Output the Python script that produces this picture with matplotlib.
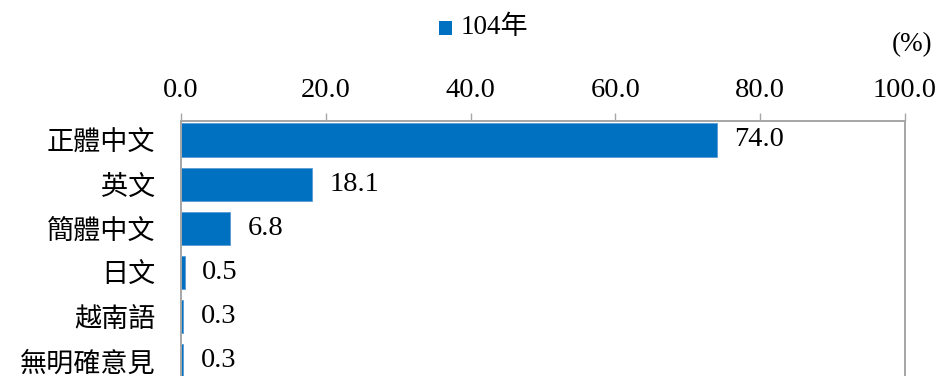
import matplotlib
matplotlib.use("Agg")
import matplotlib.pyplot as plt
from matplotlib.patches import Rectangle

categories = ["正體中文", "英文", "簡體中文", "日文", "越南語", "無明確意見"]
values = [74.0, 18.1, 6.8, 0.5, 0.3, 0.3]
xticks = [0, 20, 40, 60, 80, 100]
xtick_labels = ["0.0", "20.0", "40.0", "60.0", "80.0", "100.0"]
legend_label = "104年"
unit_label = "(%)"

BLUE = "#0070C0"
GRAY = "#A6A6A6"
SERIF = ["Liberation Serif", "Noto Sans CJK TC"]
CJK = ["Noto Sans CJK TC", "DejaVu Sans"]

fig = plt.figure(figsize=(9.4, 3.76), dpi=100)
W, H = 940, 376
left, right, top, bottom = 181, 905, 121, 383
ax = fig.add_axes([left / W, 1 - bottom / H, (right - left) / W, (bottom - top) / H])

y = list(range(len(categories)))
ax.barh(y, values, height=0.75, color=BLUE, edgecolor="#5B9BD5", linewidth=0.6)
ax.set_ylim(5.5, -0.43)
ax.set_xlim(0, 100)

ax.xaxis.tick_top()
ax.set_xticks(xticks)
ax.set_xticklabels(xtick_labels, fontfamily=SERIF, fontsize=20.5)
ax.tick_params(axis="x", direction="out", length=5.8, width=1, color=GRAY, pad=7.5)
ax.set_yticks(y)
ax.set_yticklabels(categories, fontfamily=CJK, fontsize=19.5)
ax.tick_params(axis="y", length=0, pad=18.5)

for s in ["left", "right", "top", "bottom"]:
    ax.spines[s].set_color(GRAY)
    ax.spines[s].set_linewidth(1.4)

for yi, v in zip(y, values):
    ax.text(v + 2.4, yi, f"{v:.1f}", va="center", ha="left",
            fontfamily=SERIF, fontsize=20.5, color="black")

# legend
fig.patches.append(Rectangle((439 / W, 1 - 35 / H), 13 / W, 14 / H,
                             transform=fig.transFigure, facecolor=BLUE,
                             edgecolor="none"))
fig.text(461 / W, 1 - 28 / H, legend_label, ha="left", va="center",
         fontfamily=SERIF, fontsize=19.5)
fig.text(932 / W, 1 - 45 / H, unit_label, ha="right", va="center",
         fontfamily=SERIF, fontsize=19.5)

fig.savefig("out.png", dpi=100)
